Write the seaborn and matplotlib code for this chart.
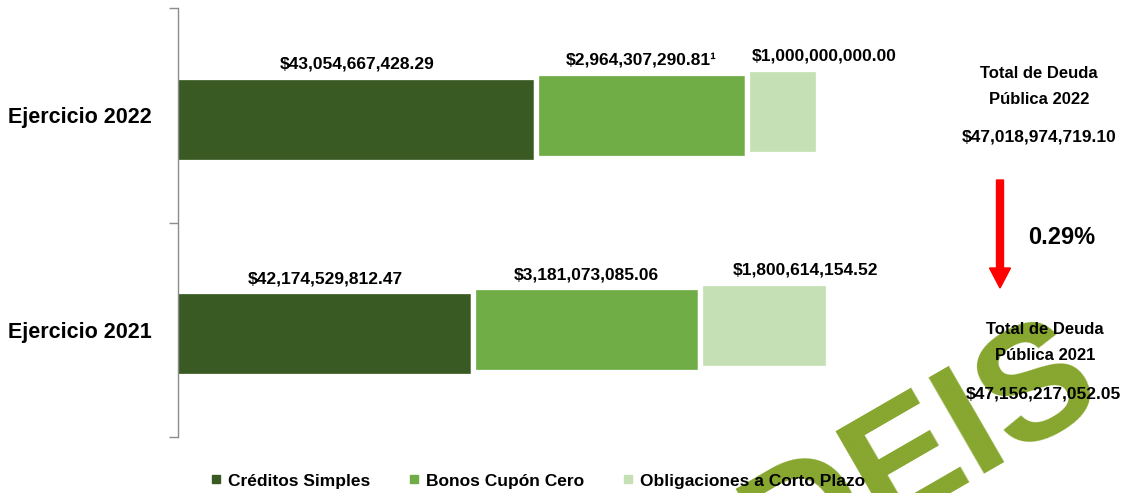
import matplotlib
matplotlib.use("Agg")
import matplotlib.pyplot as plt
from matplotlib.lines import Line2D
from matplotlib.patches import FancyArrow
import numpy as np
import seaborn as sns

# data
categories = ["Ejercicio 2022", "Ejercicio 2021"]
series = ["Créditos Simples", "Bonos Cupón Cero", "Obligaciones a Corto Plazo"]
creditos_simples = [43054667428.29, 42174529812.47]
bonos_cupon_cero = [2964307290.81, 3181073085.06]
obligaciones_cp = [1000000000.00, 1800614154.52]
footnotes = [["", "¹", ""], ["", "", ""]]
years = ["2022", "2021"]

colors = ["#3A5A24", "#70AD47", "#C5E0B4"]

sns.set_theme(style="white")
plt.rcParams["font.family"] = ["Liberation Sans", "DejaVu Sans"]
plt.rcParams["text.color"] = "black"

W, H = 1128, 493
fig = plt.figure(figsize=(W / 100, H / 100), dpi=100)
ax = fig.add_axes([178 / W, 56 / H, 950 / W, 429 / H])

values = np.array([creditos_simples, bonos_cupon_cero, obligaciones_cp])
lefts = np.vstack([np.zeros(2), np.cumsum(values, axis=0)[:-1]])
totals = values.sum(axis=0)

xmin = 38.03e9
xmax = xmin + 950 / 71.2 * 1e9

bar_h = 0.395
offsets = [0.019, 0.0, -0.019]   # small step up for each segment
label_dx = [0, 0, 30]

for i, name in enumerate(series):
    n_before = len(ax.patches)
    sns.barplot(x=values[i], y=categories, orient="h", left=lefts[i],
                color=colors[i], saturation=1, width=bar_h, errorbar=None,
                edgecolor="white", linewidth=3.8, ax=ax)
    for p in ax.patches[n_before:]:
        p.set_y(p.get_y() + offsets[i])
    for j in range(len(categories)):
        # centre the label on the visible part of the segment
        x0 = max(lefts[i][j], xmin)
        xc = (x0 + lefts[i][j] + values[i][j]) / 2
        ytop = j + offsets[i] - bar_h / 2
        ax.annotate(f"${values[i][j]:,.2f}{footnotes[j][i]}", (xc, ytop),
                    xytext=(label_dx[i], 6), textcoords="offset points",
                    ha="center", va="baseline", fontsize=12.5,
                    fontweight="bold", color="black", annotation_clip=False)

ax.set_xlim(xmin, xmax)
ax.set_ylim(1.5, -0.5)
ax.set_xlabel("")
ax.set_ylabel("")
ax.set_xticks([])
ax.set_yticks([0, 1])
ax.set_yticklabels(categories, fontsize=15.5, fontweight="bold", color="black")
ax.tick_params(axis="y", which="major", length=0, pad=19)
ax.set_yticks([-0.5, 0.5, 1.5], minor=True)
ax.tick_params(axis="y", which="minor", left=True, length=6.5, width=1, color="#8c8c8c")
for s in ["top", "right", "bottom"]:
    ax.spines[s].set_visible(False)
ax.spines["left"].set_color("#8c8c8c")
ax.spines["left"].set_linewidth(1)

# watermark
fig.text(722 / W, 1 - 484 / H, "DEIS", rotation=30, rotation_mode="anchor",
         ha="left", va="top", fontsize=116, fontweight="bold", color="#86A62E",
         zorder=1)

# totals on the right
def ftxt(x, y, s, **kw):
    fig.text(x / W, 1 - y / H, s, ha="center", va="center", fontweight="bold",
             color="black", zorder=3, **kw)

ftxt(1039, 73, "Total de Deuda", fontsize=12)
ftxt(1039, 99, f"Pública {years[0]}", fontsize=12)
ftxt(1039, 137, f"${totals[0]:,.2f}", fontsize=12.5)
ftxt(1045, 329, "Total de Deuda", fontsize=12)
ftxt(1045, 355, f"Pública {years[1]}", fontsize=12)
ftxt(1043, 394, f"${totals[1]:,.2f}", fontsize=12.5)

change = (totals[1] - totals[0]) / totals[1] * 100
ftxt(1062, 237, f"{change:.2f}%", fontsize=17)

arrow = FancyArrow(10.0, (H - 180) / 100, 0, -1.08, width=0.07, head_width=0.21,
                   head_length=0.2, length_includes_head=True, color="#FF0000",
                   transform=fig.dpi_scale_trans, zorder=3)
fig.patches.append(arrow)

handles = [Line2D([0], [0], marker="s", linestyle="none", markersize=5.5,
                  markerfacecolor=c, markeredgecolor=c) for c in colors]
leg = fig.legend(handles, series, loc="center", bbox_to_anchor=(538 / W, 1 - 481 / H),
                 ncol=3, frameon=False, handlelength=0.6, handletextpad=0.4,
                 columnspacing=2.2, labelcolor="black",
                 prop={"weight": "bold", "size": 12.5})
leg.set_zorder(5)

fig.savefig("out.png", dpi=100)
plt.close(fig)
